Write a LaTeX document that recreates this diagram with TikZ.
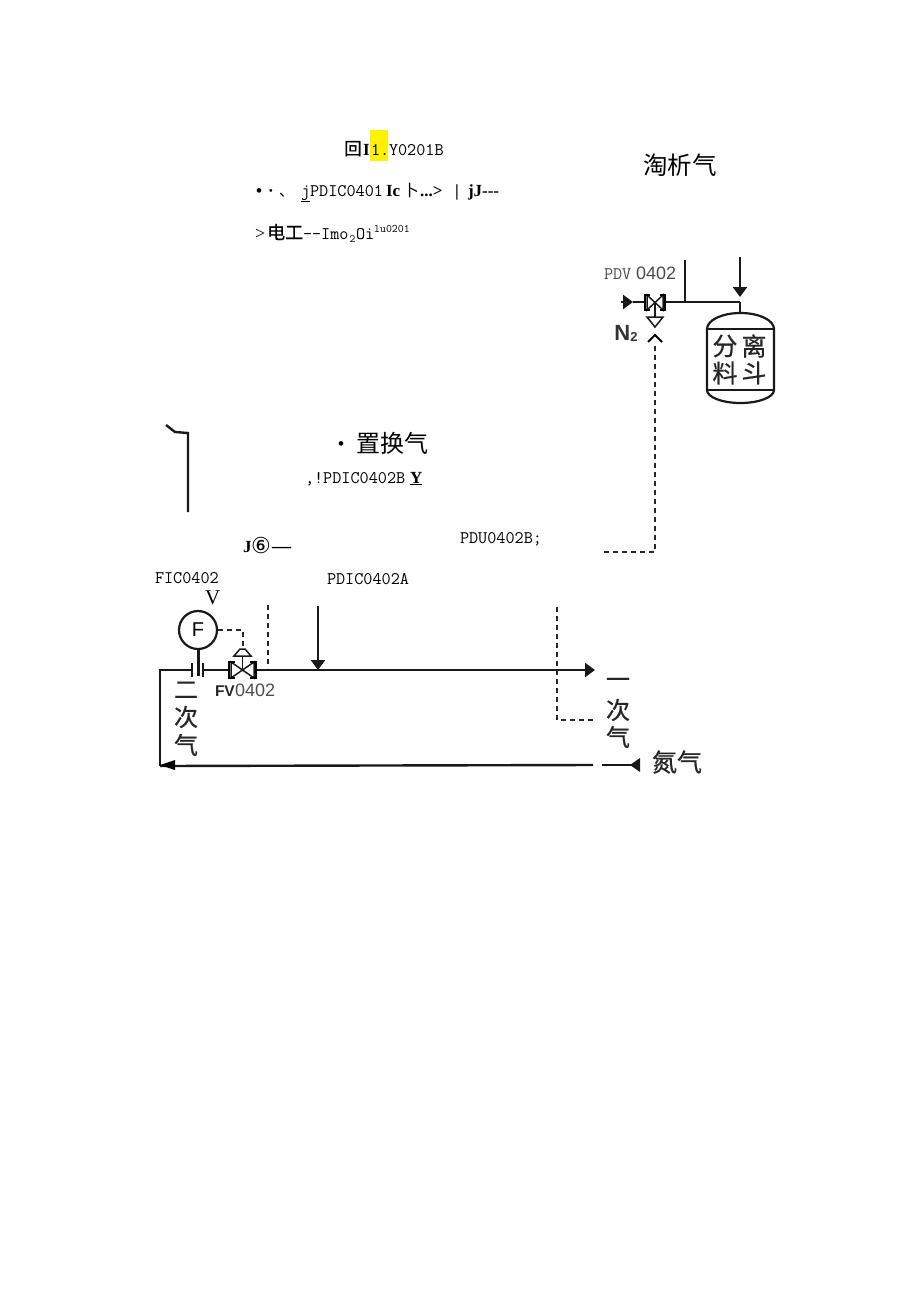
\documentclass[tikz,border=0pt]{standalone}
\usepackage{fontspec}
\setmainfont{Liberation Serif}
\setsansfont{Liberation Sans}
\newfontfamily\cjk{Noto Sans CJK SC}
\newfontfamily\cjkb[FakeBold=0.6]{Noto Sans CJK SC}
\newfontfamily\djv{DejaVu Sans}
\setmonofont{Latin Modern Mono}
\usetikzlibrary{arrows.meta}
\newcommand{\fz}[1]{\fontsize{#1}{#1}\selectfont}
\tikzset{
 lab/.style={anchor=base west,inner sep=0pt,outer sep=0pt,font=\fz{17.7}\ttfamily,text=black},
 blab/.style={anchor=base west,inner sep=0pt,outer sep=0pt,font=\fz{17}\bfseries},
 han/.style={anchor=center,inner sep=0pt,outer sep=0pt,font=\fz{24}\cjkb,text=black!85},
 pipe/.style={line width=2.4pt,draw=black!90},
 sig/.style={line width=2.4pt,draw=black!85,dash pattern=on 5pt off 4pt},
 tip/.style={-{Triangle[length=10pt,width=14pt]}},
 sym/.style={line width=1.5pt,draw=black!90,fill=white},
}
\begin{document}
\begin{tikzpicture}[x=1pt,y=-1pt]
\useasboundingbox (0,0) rectangle (920,1301);
% top text block
\fill[yellow] (370,130) rectangle (388,161);
\node[anchor=base west,inner sep=0pt,font=\fz{17.5}\cjkb] (t1) at (344,155) {回};
\node[blab] (t2) at (363,155) {I};
\node[lab,font=\fz{17.7}\ttfamily\bfseries] (t3) at (371,155) {1.};
\node[lab] (t4) at (389,155) {Y0201B};
\node[blab] (l1) at (256,196) {•};
\node[blab] (l2) at (268,196) {·};
\node[anchor=base west,inner sep=0pt,font=\fz{15}\cjk] (l3) at (279,196) {、};
\node[lab] (l4) at (301,196) {\underline{j}PDIC0401};
\node[blab] (l5) at (386,196) {Ic};
\node[anchor=base west,inner sep=0pt,font=\fz{16}\cjk] (l6) at (403,196) {卜};
\node[blab] (l7) at (420,196) {...>};
\node[blab] (l8) at (455,196) {|};
\node[blab] (l9) at (468,196) {jJ{-}{-}{-}};
\node[anchor=base west,inner sep=0pt,font=\fz{18}] (m1) at (255,239) {>};
\node[anchor=base west,inner sep=0pt,font=\fz{18}\cjkb] (m2) at (267,239) {电工};
\node[lab] (m3) at (303,239) {--Imo};
\node[anchor=base west,inner sep=0pt,font=\fz{11}\ttfamily] (m4) at (349.5,242) {2};
\node[lab] (m5) at (356,239) {Oi};
\node[anchor=base west,inner sep=0pt,font=\fz{11.5}\ttfamily] (m6) at (374,232) {lu0201};
\node[anchor=center,inner sep=0pt,font=\fz{24.5}\cjk] (taoxi) at (680,165) {淘析气};
% separator hopper
\node[lab,text=black!70] (pdv) at (604,279) {PDV};
\node[lab,font=\fz{18}\sffamily,text=black!70] (pdvb) at (636,279) {0402};
\coordinate (n2in) at (621,302);
\coordinate (n2tip) at (633,302);
\coordinate (vl) at (645,302);
\coordinate (vr) at (665,302);
\coordinate (tee) at (685,302);
\coordinate (teeup) at (685,260);
\coordinate (hopin) at (740,297);
\coordinate (hopj) at (740,302);
\coordinate (hoptop) at (740,313);
\coordinate (feed) at (740,257);
\draw[pipe] (vr) -- (hopj);
\draw[pipe] (tee) -- (teeup);
\draw[pipe,tip] (feed) -- (hopin);
\draw[pipe] (hopj) -- (hoptop);
\draw[pipe,tip] (n2in) -- (n2tip);
\draw[pipe] (n2tip) -- (vl);
% PDV valve
\draw[sym] (647,295) -- (647,310) -- (663,295) -- (663,310) -- cycle;
\draw[line width=1.7pt] (650,295) -- (645,295) -- (645,310) -- (650,310) (660,295) -- (665,295) -- (665,310) -- (660,310);
\draw[sym] (655,302) -- (655,317);
\draw[sym] (647,317) -- (663,317) -- (655,327) -- cycle;
\draw[line width=2pt] (648,342) -- (655,335) -- (662,342);
\node[anchor=center,inner sep=0pt,font=\fz{22}\bfseries\sffamily,text=black!80] (n2) at (626,333) {N\raisebox{-1pt}{\fz{13}2}};
% dashed signal
\coordinate (sa) at (655,346);
\coordinate (sb) at (655,552);
\coordinate (sc) at (603,552);
\draw[sig] (sa) -- (sb) -- (sc);
% vessel
\draw[pipe,line width=2.2pt] (707,329) -- (707,390) arc[start angle=180,end angle=360,x radius=33.5,y radius=-13] -- (774,329) arc[start angle=0,end angle=180,x radius=33.5,y radius=-16];
\draw[pipe,line width=1.7pt] (707,329) -- (774,329) (707,390) -- (774,390);
\node[han,font=\fz{25}\cjkb] (h1) at (725,346) {分};
\node[han,font=\fz{25}\cjkb] (h2) at (754,346) {离};
\node[han,font=\fz{25}\cjkb] (h3) at (725,373) {料};
\node[han,font=\fz{25}\cjkb] (h4) at (754,373) {斗};
% middle text
\draw[pipe] (166,425) -- (175,432) -- (188,433) -- (188,512);
\node[blab] (d1) at (338,449) {•};
\node[anchor=center,inner sep=0pt,font=\fz{24}\cjk] (zh) at (392,443) {置换气};
\node[lab] (pb) at (305,483) {,!PDIC0402B};
\node[blab] (py) at (410,483) {\underline{Y}};
\node[blab] (j6) at (243,552) {J};
\node[anchor=base west,inner sep=0pt,font=\fz{22}\djv] (j6b) at (251,553) {⑥};
\node[blab,font=\fz{19}\bfseries] (j6c) at (272,552) {—};
\node[lab] (pdu) at (460,543) {PDU0402B;};
\node[lab] (fic) at (155,583) {FIC0402};
\node[lab,font=\fz{21}] (vv) at (205,604) {V};
\node[lab] (pdia) at (327,584) {PDIC0402A};
% main loop
\coordinate (la) at (160,670);
\coordinate (lb) at (160,766);
\coordinate (oa) at (192,670);
\coordinate (ob) at (203,670);
\coordinate (va) at (229,670);
\coordinate (vb) at (256,670);
\coordinate (end) at (595,670);
\coordinate (ret) at (593,765);
\coordinate (reta) at (602,765);
\coordinate (rett) at (632,765);
\draw[pipe] (oa) -- (la) -- (lb);
\draw[pipe] (lb) -- (ret);
\fill[black] (160,765) -- (175,760) -- (175,770) -- cycle;
\draw[pipe] (ob) -- (va);
\draw[pipe,tip] (vb) -- (end);
\draw[pipe] (reta) -- (rett);
\fill[black!90] (630,765) -- (640,758) -- (640,772) -- cycle;
% orifice
\draw[pipe] (192,663) -- (192,677) (203,663) -- (203,677);
\node[circle,draw=black!90,line width=2.2pt,minimum size=38pt,inner sep=0pt,font=\fz{20}\sffamily] (fi) at (198,630) {F};
\draw[pipe,line width=3pt] (fi.south) -- (198,676);
% FV valve
\draw[sym] (231,662) -- (231,678) -- (254,662) -- (254,678) -- cycle;
\draw[line width=1.7pt] (235,662) -- (229,662) -- (229,678) -- (235,678) (250,662) -- (256,662) -- (256,678) -- (250,678);
\draw[sym] (242.5,670) -- (242.5,656);
\draw[sym] (234,656) -- (251,656) -- (245,649) -- (240,649) -- cycle;
\coordinate (sd) at (243,630);
\coordinate (se) at (243,646);
\draw[sig] (fi.east) -- (sd) -- (se);
\node[blab,font=\fz{15.5}\bfseries\sffamily,text=black!85] (fv) at (215,696) {FV};
\node[lab,font=\fz{18}\sffamily,text=black!70] (fvb) at (235,696) {0402};
% dashed drops
\coordinate (da) at (268,605);
\coordinate (db) at (268,668);
\draw[sig] (da) -- (db);
\coordinate (fa) at (318,606);
\coordinate (fb) at (318,670);
\draw[pipe,tip] (fa) -- (fb);
\coordinate (ga) at (557,607);
\coordinate (gb) at (557,720);
\coordinate (gc) at (594,720);
\draw[sig] (ga) -- (gb) -- (gc);
% vertical labels
\node[han] (a1) at (186,690) {二};
\node[han] (a2) at (186,717) {次};
\node[han] (a3) at (186,745) {气};
\node[han] (b1) at (618,683) {一};
\node[han] (b2) at (618,710) {次};
\node[han] (b3) at (618,737) {气};
\node[han,font=\fz{25}\cjkb] (dan) at (677,762) {氮气};
\end{tikzpicture}
\end{document}
